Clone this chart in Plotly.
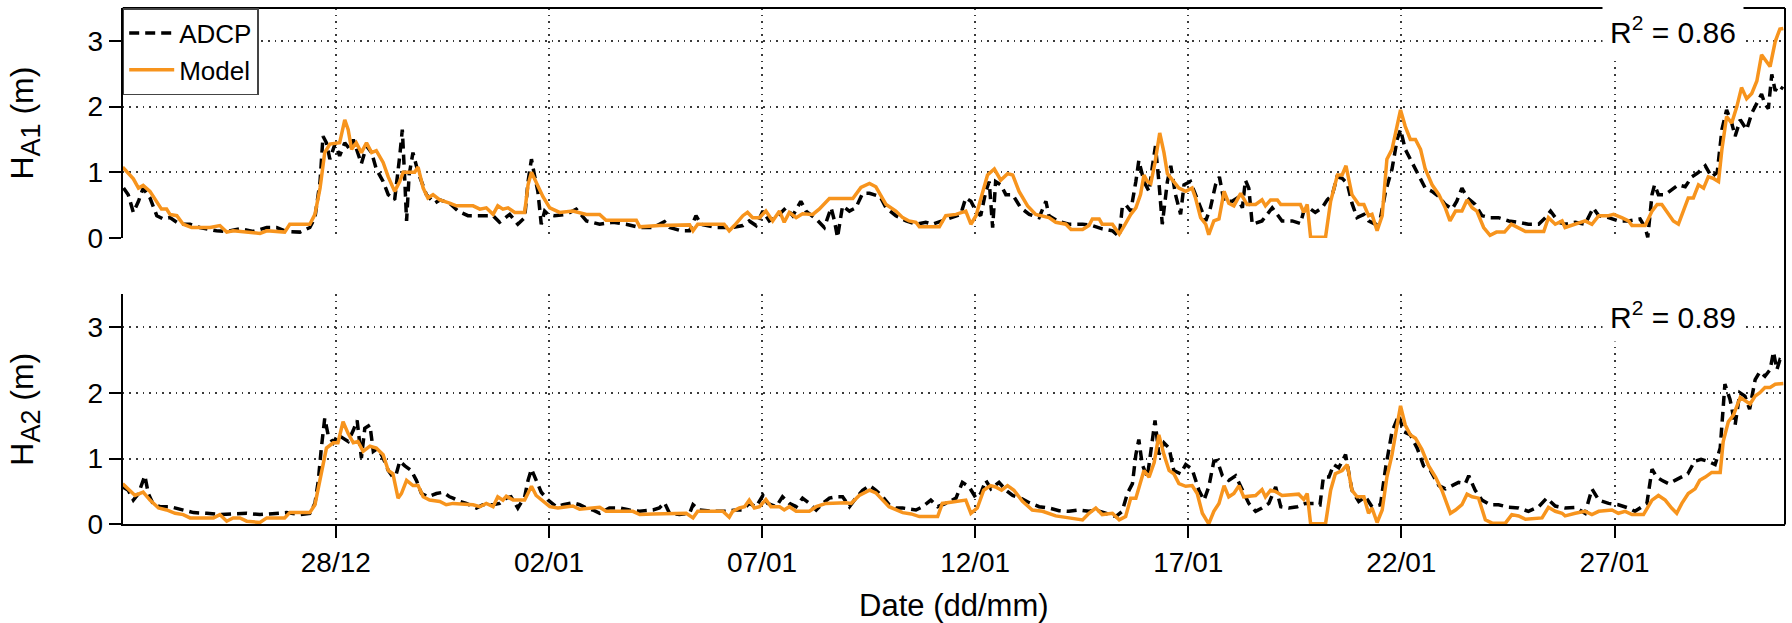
import pandas as pd
import plotly.graph_objects as go

# Time axis: day offsets from 23/12 00:00
START = pd.Timestamp("2013-12-23")
END = pd.Timestamp("2014-01-31")

tick_dates = ["2013-12-28", "2014-01-02", "2014-01-07", "2014-01-12",
              "2014-01-17", "2014-01-22", "2014-01-27"]
tick_labels = ["28/12", "02/01", "07/01", "12/01", "17/01", "22/01", "27/01"]

# ---------------- H_A1 : ADCP ----------------
a1_adcp_day = [
    0.02, 0.13, 0.25, 0.37, 0.48, 0.64, 0.80, 0.95, 1.11, 1.34, 1.58, 1.81, 2.20, 2.44, 2.75,
    3.06, 3.38, 3.61, 3.84, 4.16, 4.39, 4.51, 4.63, 4.70, 4.78, 4.86, 4.98, 5.09, 5.21, 5.33,
    5.41, 5.52, 5.60, 5.72, 5.84, 5.95, 6.11, 6.23, 6.38, 6.50, 6.56, 6.62, 6.66, 6.72, 6.81,
    6.93, 7.125, 7.32, 7.44, 7.67, 7.87, 8.10, 8.38, 8.69, 8.84, 9.00, 9.08, 9.27, 9.43, 9.51,
    9.59, 9.66, 9.74, 9.82, 9.90, 9.98, 10.13, 10.41, 10.64, 10.88, 11.19, 11.50, 11.81, 12.13,
    12.44, 12.71, 12.83, 13.11, 13.30, 13.45, 13.57, 13.92, 14.31, 14.55, 14.70, 14.86, 15.02,
    15.17, 15.37, 15.56, 15.72, 15.91, 16.03, 16.27, 16.46, 16.62, 16.70, 16.77, 16.89, 17.05,
    17.20, 17.36, 17.52, 17.77, 17.91, 18.14, 18.38, 18.61, 18.84, 19.00, 19.23, 19.47, 19.66,
    19.78, 19.90, 20.02, 20.13, 20.25, 20.33, 20.41, 20.48, 20.60, 20.72, 20.88, 21.07, 21.27,
    21.50, 21.66, 21.73, 21.93, 22.20, 22.52, 22.75, 22.98, 23.22, 23.38, 23.45, 23.53, 23.65,
    23.77, 23.84, 23.96, 24.08, 24.16, 24.23, 24.31, 24.39, 24.51, 24.59, 24.70, 24.82, 24.90,
    25.05, 25.17, 25.33, 25.41, 25.52, 25.64, 25.73, 25.84, 26.03, 26.15, 26.27, 26.34, 26.42,
    26.50, 26.73, 26.97, 27.20, 27.44, 27.63, 27.71, 27.83, 27.98, 28.14, 28.26, 28.38, 28.49,
    28.61, 28.73, 28.84, 28.96, 29.12, 29.23, 29.39, 29.51, 29.63, 29.78, 29.90, 29.98, 30.09,
    30.25, 30.41, 30.56, 30.72, 30.88, 31.03, 31.19, 31.30, 31.42, 31.55, 31.73, 31.89, 32.08,
    32.28, 32.52, 32.75, 32.98, 33.22, 33.38, 33.50, 33.69, 33.84, 34.08, 34.31, 34.50, 34.63,
    34.86, 35.09, 35.33, 35.60, 35.72, 35.78, 35.88, 35.94, 36.03, 36.19, 36.34, 36.50, 36.66,
    36.81, 36.97, 37.13, 37.28, 37.41, 37.52, 37.63, 37.75, 37.83, 37.95, 38.10, 38.22, 38.34,
    38.45, 38.53, 38.61, 38.69, 38.77, 38.84, 38.96,
]
a1_adcp_h = [
    0.76, 0.66, 0.39, 0.56, 0.76, 0.61, 0.34, 0.29, 0.31, 0.21, 0.21, 0.16, 0.11, 0.10, 0.14,
    0.10, 0.16, 0.16, 0.10, 0.09, 0.16, 0.31, 0.86, 1.55, 1.45, 1.20, 1.43, 1.25, 1.45, 1.35,
    1.50, 1.30, 1.13, 1.40, 1.30, 1.05, 0.86, 0.66, 0.58, 1.25, 1.65, 0.86, 0.26, 0.96, 1.30,
    1.00, 0.66, 0.53, 0.58, 0.53, 0.41, 0.34, 0.34, 0.34, 0.24, 0.31, 0.36, 0.21, 0.31, 0.86,
    1.20, 0.96, 0.71, 0.21, 0.41, 0.36, 0.34, 0.36, 0.44, 0.26, 0.21, 0.24, 0.21, 0.16,
    0.16, 0.25, 0.16, 0.11, 0.11, 0.34, 0.21, 0.16, 0.16, 0.19, 0.26, 0.19, 0.41,
    0.26, 0.34, 0.46, 0.34, 0.56, 0.41, 0.29, 0.16, 0.46, 0.26, 0.01, 0.49, 0.41,
    0.46, 0.68, 0.68, 0.63, 0.46, 0.34, 0.26, 0.21, 0.24, 0.21, 0.26, 0.31, 0.36,
    0.61, 0.56, 0.41, 0.34, 0.71, 0.86, 0.16, 0.86, 0.81, 0.66, 0.66, 0.46, 0.36,
    0.31, 0.56, 0.34, 0.26, 0.21, 0.21, 0.19, 0.14, 0.11, 0.02, 0.46, 0.51, 0.41,
    0.86, 1.18, 0.86, 0.71, 1.10, 1.40, 0.86, 0.21, 0.86, 1.10, 0.66, 0.36, 0.81,
    0.86, 0.66, 0.41, 0.26, 0.46, 0.81, 0.93, 0.56, 0.56, 0.61, 0.46, 0.88, 0.76,
    0.21, 0.26, 0.46, 0.26, 0.26, 0.22, 0.41, 0.46, 0.39, 0.46, 0.58, 0.66, 0.93,
    0.91, 0.83, 0.53, 0.31, 0.36, 0.26, 0.21, 0.31, 0.71, 1.05, 1.50, 1.65, 1.35,
    1.15, 0.96, 0.76, 0.71, 0.63, 0.51, 0.44, 0.56, 0.76, 0.61, 0.51, 0.34, 0.31,
    0.31, 0.26, 0.24, 0.21, 0.21, 0.31, 0.41, 0.24, 0.21, 0.24, 0.21, 0.46, 0.34,
    0.31, 0.26, 0.26, 0.29, 0.16, 0.01, 0.66, 0.81, 0.66, 0.66, 0.73, 0.81, 0.78,
    0.93, 1.00, 1.10, 0.93, 1.00, 1.65, 1.95, 1.75, 1.55, 1.80, 1.65, 1.90, 2.04,
    2.19, 2.04, 1.97, 2.49, 2.24, 2.32, 2.27,
]

# ---------------- H_A1 : Model ----------------
a1_model_day = [
    0.00, 0.25, 0.37, 0.48, 0.64, 0.80, 0.91, 1.03, 1.11, 1.27, 1.42, 1.62, 2.05, 2.28, 2.44,
    2.59, 2.91, 3.22, 3.38, 3.61, 3.80, 3.92, 4.39, 4.51, 4.63, 4.74, 4.86, 5.09, 5.21, 5.29,
    5.37, 5.48, 5.60, 5.72, 5.84, 5.95, 6.11, 6.23, 6.38, 6.50, 6.58, 6.85, 6.93, 7.05, 7.16,
    7.28, 7.44, 7.67, 7.83, 8.22, 8.38, 8.53, 8.69, 8.80, 8.92, 9.04, 9.20, 9.43, 9.51, 9.59,
    9.70, 9.86, 10.02, 10.25, 10.56, 10.88, 11.19, 11.34, 12.05, 12.13, 12.59, 13.30, 13.38,
    13.49, 14.11, 14.23, 14.35, 14.55, 14.66, 14.78, 14.94, 15.09, 15.25, 15.41, 15.52, 15.64,
    15.80, 15.95, 16.19, 16.34, 16.58, 17.13, 17.32, 17.52, 17.67, 17.91, 18.14, 18.30, 18.45,
    18.61, 18.69, 19.16, 19.31, 19.55, 19.78, 19.90, 20.02, 20.17, 20.29, 20.45, 20.60, 20.76,
    20.88, 21.03, 21.23, 21.42, 21.58, 21.73, 21.89, 22.13, 22.25, 22.52, 22.67, 22.75, 22.91,
    22.98, 23.22, 23.38, 23.50, 23.65, 23.77, 23.88, 23.96, 24.04, 24.12, 24.22, 24.33, 24.43,
    24.51, 24.66, 24.78, 24.94, 25.09, 25.17, 25.29, 25.41, 25.48, 25.60, 25.72, 25.84, 25.95,
    26.07, 26.23, 26.38, 26.58, 26.73, 26.81, 26.93, 27.09, 27.17, 27.63, 27.71, 27.79, 27.87,
    28.22, 28.34, 28.50, 28.61, 28.70, 28.84, 29.00, 29.12, 29.23, 29.31, 29.43, 29.55, 29.66,
    29.78, 29.88, 29.98, 30.09, 30.21, 30.33, 30.45, 30.56, 30.72, 30.88, 31.03, 31.14, 31.27,
    31.42, 31.54, 31.66, 31.77, 31.93, 32.08, 32.23, 32.42, 32.58, 32.75, 32.91, 33.34, 33.45,
    33.61, 33.77, 33.84, 34.08, 34.31, 34.47, 34.63, 34.86, 34.98, 35.17, 35.33, 35.41, 35.72,
    35.88, 36.00, 36.11, 36.27, 36.38, 36.50, 36.58, 36.73, 36.85, 36.97, 37.09, 37.20, 37.31,
    37.44, 37.52, 37.63, 37.75, 37.87, 37.98, 38.10, 38.22, 38.34, 38.45, 38.53, 38.65, 38.77,
    38.88, 38.96,
]
a1_model_h = [
    1.08, 0.90, 0.76, 0.80, 0.71, 0.56, 0.44, 0.44, 0.36, 0.34, 0.21, 0.16, 0.16, 0.19, 0.09,
    0.11, 0.09, 0.07, 0.11, 0.10, 0.09, 0.21, 0.21, 0.36, 0.76, 1.30, 1.43, 1.45, 1.80, 1.65,
    1.35, 1.45, 1.30, 1.45, 1.30, 1.33, 1.15, 0.93, 0.71, 0.86, 1.00, 1.00, 1.08, 0.76, 0.61,
    0.66, 0.58, 0.53, 0.49, 0.49, 0.44, 0.46, 0.36, 0.49, 0.44, 0.46, 0.39, 0.39, 0.81, 1.00,
    0.86, 0.63, 0.46, 0.39, 0.41, 0.36, 0.36, 0.27, 0.27, 0.17, 0.19, 0.20, 0.11,
    0.21, 0.21, 0.11, 0.19, 0.34, 0.39, 0.31, 0.31, 0.41, 0.26, 0.41, 0.24, 0.39,
    0.31, 0.37, 0.36, 0.44, 0.60, 0.60, 0.77, 0.83, 0.78, 0.51, 0.41, 0.31, 0.26,
    0.24, 0.17, 0.17, 0.34, 0.36, 0.41, 0.21, 0.34, 0.66, 0.96, 1.05, 0.88, 0.98,
    0.96, 0.71, 0.49, 0.36, 0.34, 0.31, 0.24, 0.21, 0.13, 0.13, 0.19, 0.29, 0.29,
    0.21, 0.21, 0.06, 0.19, 0.36, 0.46, 0.66, 0.96, 0.86, 0.83, 1.15, 1.60, 1.30,
    0.98, 0.86, 0.76, 0.71, 0.76, 0.61, 0.31, 0.21, 0.05, 0.26, 0.29, 0.71, 0.53,
    0.49, 0.68, 0.51, 0.51, 0.58, 0.49, 0.58, 0.58, 0.51, 0.51, 0.39, 0.51, 0.01,
    0.01, 0.56, 0.96, 0.96, 1.10, 0.66, 0.51, 0.51, 0.34, 0.36, 0.11, 0.34, 1.20,
    1.35, 1.65, 1.95, 1.70, 1.50, 1.50, 1.35, 1.05, 0.81, 0.66, 0.46, 0.26, 0.41,
    0.41, 0.58, 0.46, 0.41, 0.16, 0.04, 0.09, 0.09, 0.21, 0.16, 0.10, 0.10, 0.31,
    0.21, 0.26, 0.16, 0.21, 0.26, 0.21, 0.34, 0.34, 0.36, 0.31, 0.26, 0.19, 0.19,
    0.41, 0.51, 0.51, 0.36, 0.26, 0.21, 0.36, 0.61, 0.61, 0.81, 0.76, 0.93, 0.91,
    0.86, 1.35, 1.85, 1.75, 2.00, 2.29, 2.12, 2.20, 2.39, 2.79, 2.71, 2.61, 2.99,
    3.18, 3.19,
]

# ---------------- H_A2 : ADCP ----------------
a2_adcp_day = [
    0.00, 0.13, 0.25, 0.37, 0.52, 0.60, 0.72, 0.88, 1.11, 1.38, 1.66, 1.97, 2.28, 2.59, 2.91,
    3.22, 3.53, 3.84, 4.16, 4.39, 4.51, 4.59, 4.66, 4.74, 4.82, 4.94, 5.05, 5.17, 5.29, 5.41,
    5.50, 5.60, 5.68, 5.80, 5.88, 5.99, 6.11, 6.23, 6.34, 6.42, 6.50, 6.62, 6.77, 6.89, 7.01,
    7.16, 7.36, 7.52, 7.67, 7.75, 7.91, 8.06, 8.30, 8.45, 8.69, 8.84, 9.00, 9.11, 9.27, 9.43,
    9.51, 9.59, 9.70, 9.82, 9.98, 10.17, 10.33, 10.56, 10.72, 10.88, 11.03, 11.19, 11.42, 11.66,
    11.89, 12.13, 12.44, 12.59, 12.71, 12.83, 13.06, 13.30, 13.38, 13.53, 13.84, 14.16, 14.39,
    14.55, 14.70, 14.86, 15.02, 15.13, 15.33, 15.48, 15.64, 15.80, 15.95, 16.11, 16.27, 16.42,
    16.58, 16.73, 16.89, 17.05, 17.20, 17.36, 17.52, 17.67, 17.83, 17.98, 18.14, 18.30, 18.61,
    18.77, 18.96, 19.12, 19.31, 19.55, 19.70, 19.86, 20.02, 20.13, 20.25, 20.37, 20.56, 20.72,
    20.88, 21.07, 21.27, 21.50, 21.73, 21.97, 22.20, 22.44, 22.67, 22.83, 23.06, 23.30, 23.45,
    23.57, 23.69, 23.77, 23.84, 23.92, 24.04, 24.12, 24.22, 24.31, 24.43, 24.55, 24.66, 24.82,
    24.94, 25.09, 25.25, 25.37, 25.48, 25.60, 25.68, 25.80, 25.95, 26.11, 26.27, 26.42, 26.58,
    26.73, 26.89, 27.05, 27.17, 27.36, 27.56, 27.75, 27.98, 28.09, 28.17, 28.30, 28.41, 28.53,
    28.69, 28.84, 29.00, 29.16, 29.31, 29.51, 29.63, 29.78, 29.94, 30.05, 30.21, 30.37, 30.52,
    30.68, 30.88, 31.03, 31.19, 31.34, 31.50, 31.58, 31.73, 31.89, 32.08, 32.28, 32.52, 32.75,
    32.98, 33.22, 33.41, 33.61, 33.84, 34.08, 34.31, 34.47, 34.63, 34.86, 35.09, 35.33, 35.48,
    35.64, 35.76, 35.88, 35.99, 36.11, 36.27, 36.42, 36.56, 36.72, 36.88, 37.03, 37.19, 37.36,
    37.48, 37.59, 37.71, 37.83, 37.94, 38.06, 38.17, 38.30, 38.41, 38.53, 38.65, 38.73, 38.81,
    38.88, 38.96,
]
a2_adcp_h = [
    0.57, 0.52, 0.37, 0.47, 0.74, 0.47, 0.30, 0.27, 0.27, 0.22, 0.18, 0.17, 0.15, 0.16, 0.17,
    0.15, 0.17, 0.18, 0.15, 0.17, 0.32, 0.67, 1.16, 1.61, 1.36, 1.24, 1.36, 1.31, 1.26, 1.43,
    1.58, 1.01, 1.46, 1.51, 1.11, 1.16, 1.01, 0.82, 0.72, 0.77, 0.96, 0.89, 0.82, 0.67, 0.47,
    0.42, 0.47, 0.49, 0.42, 0.40, 0.35, 0.32, 0.25, 0.30, 0.30, 0.32, 0.40, 0.42, 0.25, 0.42,
    0.67, 0.84, 0.67, 0.49, 0.37, 0.27, 0.30, 0.33, 0.30, 0.25, 0.22, 0.17, 0.25, 0.25,
    0.22, 0.20, 0.22, 0.25, 0.33, 0.17, 0.15, 0.17, 0.30, 0.22, 0.20, 0.20, 0.22,
    0.22, 0.32, 0.27, 0.44, 0.32, 0.27, 0.42, 0.32, 0.27, 0.40, 0.32, 0.22, 0.32,
    0.40, 0.42, 0.42, 0.27, 0.40, 0.52, 0.59, 0.52, 0.42, 0.30, 0.25, 0.25, 0.22,
    0.27, 0.37, 0.27, 0.32, 0.40, 0.64, 0.57, 0.40, 0.47, 0.67, 0.54, 0.64, 0.52,
    0.44, 0.40, 0.33, 0.27, 0.25, 0.21, 0.20, 0.22, 0.20, 0.22, 0.17, 0.12, 0.20,
    0.47, 0.62, 1.06, 1.29, 0.91, 0.72, 1.11, 1.58, 1.06, 1.24, 1.16, 0.82, 0.77,
    0.91, 0.84, 0.52, 0.37, 0.57, 0.96, 0.97, 0.74, 0.67, 0.74, 0.52, 0.32, 0.20,
    0.25, 0.32, 0.57, 0.27, 0.25, 0.27, 0.32, 0.32, 0.30, 0.72, 0.72, 0.91, 0.86,
    1.06, 0.52, 0.35, 0.42, 0.27, 0.30, 0.86, 1.41, 1.66, 1.41, 1.36, 1.16, 0.89,
    0.82, 0.59, 0.54, 0.59, 0.64, 0.62, 0.74, 0.52, 0.37, 0.30, 0.30, 0.26, 0.25,
    0.20, 0.27, 0.40, 0.28, 0.25, 0.26, 0.17, 0.54, 0.37, 0.32, 0.30, 0.25, 0.20,
    0.27, 0.32, 0.84, 0.72, 0.67, 0.62, 0.67, 0.72, 0.77, 0.96, 0.99, 0.96, 0.91,
    1.16, 2.13, 1.90, 1.51, 2.00, 1.95, 1.75, 2.20, 2.32, 2.25, 2.35, 2.62, 2.35,
    2.50, 2.47,
]

# ---------------- H_A2 : Model ----------------
a2_model_day = [
    0.00, 0.13, 0.29, 0.48, 0.64, 0.84, 1.03, 1.23, 1.42, 1.58, 2.13, 2.28, 2.44, 2.59, 2.75,
    2.91, 3.22, 3.38, 3.80, 3.92, 4.39, 4.51, 4.66, 4.78, 4.94, 5.05, 5.17, 5.29, 5.41, 5.52,
    5.64, 5.80, 5.95, 6.11, 6.23, 6.34, 6.46, 6.54, 6.66, 6.81, 6.93, 7.05, 7.20, 7.44, 7.59,
    7.75, 8.22, 8.38, 8.53, 8.69, 8.80, 8.92, 9.00, 9.16, 9.43, 9.59, 9.70, 9.86, 10.02, 10.21,
    10.41, 10.56, 10.72, 10.95, 11.19, 11.34, 11.97, 12.13, 12.44, 13.22, 13.38, 13.49, 14.08,
    14.23, 14.31, 14.47, 14.59, 14.70, 14.82, 14.94, 15.09, 15.21, 15.41, 15.52, 15.64, 15.80,
    16.11, 16.27, 16.50, 16.97, 17.09, 17.28, 17.52, 17.67, 17.83, 17.98, 18.30, 18.50, 18.69,
    19.12, 19.23, 19.55, 19.78, 19.90, 20.05, 20.20, 20.36, 20.48, 20.62, 20.76, 20.91, 21.11,
    21.34, 21.58, 21.89, 22.20, 22.52, 22.67, 22.83, 22.98, 23.22, 23.38, 23.53, 23.65, 23.77,
    23.96, 24.08, 24.20, 24.31, 24.43, 24.55, 24.66, 24.78, 24.94, 25.09, 25.21, 25.33, 25.48,
    25.60, 25.72, 25.84, 25.95, 26.07, 26.19, 26.30, 26.58, 26.73, 26.81, 26.93, 27.05, 27.20,
    27.59, 27.71, 27.79, 27.87, 28.22, 28.34, 28.45, 28.61, 28.73, 28.84, 28.96, 29.12, 29.23,
    29.31, 29.43, 29.55, 29.66, 29.78, 29.86, 29.98, 30.09, 30.21, 30.33, 30.48, 30.64, 30.80,
    30.95, 31.15, 31.27, 31.42, 31.54, 31.66, 31.81, 31.97, 32.13, 32.44, 32.59, 32.75, 32.91,
    33.30, 33.45, 33.61, 33.77, 33.84, 34.08, 34.31, 34.47, 34.63, 34.94, 35.09, 35.25, 35.41,
    35.68, 35.88, 36.03, 36.19, 36.34, 36.46, 36.58, 36.73, 36.89, 37.00, 37.13, 37.28, 37.48,
    37.55, 37.67, 37.79, 37.95, 38.06, 38.18, 38.30, 38.41, 38.53, 38.65, 38.77, 38.96,
]
a2_model_h = [
    0.62, 0.54, 0.44, 0.49, 0.37, 0.25, 0.22, 0.17, 0.15, 0.10, 0.10, 0.15, 0.05, 0.10, 0.10,
    0.05, 0.03, 0.10, 0.10, 0.18, 0.18, 0.30, 0.77, 1.16, 1.24, 1.24, 1.56, 1.38, 1.24, 1.26,
    1.11, 1.19, 1.16, 1.06, 0.82, 0.77, 0.40, 0.47, 0.67, 0.59, 0.59, 0.42, 0.37, 0.35, 0.30,
    0.32, 0.30, 0.27, 0.32, 0.27, 0.42, 0.37, 0.43, 0.37, 0.37, 0.58, 0.44, 0.35, 0.27, 0.25,
    0.26, 0.28, 0.23, 0.25, 0.26, 0.20, 0.20, 0.15, 0.16, 0.17, 0.10, 0.20, 0.20,
    0.11, 0.20, 0.25, 0.27, 0.37, 0.25, 0.27, 0.38, 0.27, 0.27, 0.22, 0.27, 0.20,
    0.20, 0.27, 0.32, 0.33, 0.32, 0.44, 0.52, 0.48, 0.37, 0.27, 0.18, 0.16, 0.12,
    0.12, 0.32, 0.35, 0.37, 0.17, 0.25, 0.52, 0.59, 0.57, 0.52, 0.59, 0.52, 0.35,
    0.22, 0.20, 0.13, 0.10, 0.07, 0.17, 0.25, 0.15, 0.17, 0.07, 0.12, 0.40, 0.40,
    0.82, 0.72, 0.94, 1.36, 1.06, 0.82, 0.77, 0.62, 0.58, 0.59, 0.47, 0.17, 0.01,
    0.20, 0.32, 0.59, 0.42, 0.47, 0.59, 0.42, 0.44, 0.53, 0.42, 0.52, 0.50, 0.44,
    0.46, 0.38, 0.47, 0.01, 0.01, 0.52, 0.77, 0.82, 0.91, 0.52, 0.42, 0.42, 0.17,
    0.25, 0.03, 0.22, 0.72, 1.06, 1.36, 1.80, 1.51, 1.36, 1.31, 1.14, 0.89, 0.72,
    0.52, 0.17, 0.22, 0.30, 0.46, 0.42, 0.40, 0.07, 0.02, 0.02, 0.15, 0.13, 0.08,
    0.10, 0.26, 0.20, 0.17, 0.13, 0.17, 0.20, 0.15, 0.20, 0.22, 0.17, 0.20, 0.15,
    0.15, 0.37, 0.44, 0.37, 0.25, 0.17, 0.32, 0.47, 0.54, 0.67, 0.72, 0.79, 0.79,
    1.26, 1.56, 1.66, 1.93, 1.88, 1.83, 1.95, 2.00, 2.08, 2.08, 2.13, 2.14,
]

r2_values = ["0.86", "0.89"]


def to_time(days):
    return START + pd.to_timedelta(pd.Series(days, dtype=float), unit="D")


FONT = "Liberation Sans, Arial, Helvetica, sans-serif"
ORANGE = "#F7941D"
GRID = dict(showgrid=True, gridcolor="#3a3a3a", gridwidth=1.6, griddash="1.6px,5px")

# Panel geometry (paper coordinates)
X0, X1 = 122.7 / 1792, 1785.0 / 1792
TOP_DOM = [1 - 244.3 / 623, 1 - 8.3 / 623]
BOT_DOM = [1 - 538.3 / 623, 1 - 301.7 / 623]

fig = go.Figure()

panels = [
    (a1_adcp_day, a1_adcp_h, a1_model_day, a1_model_h, "x", "y", True),
    (a2_adcp_day, a2_adcp_h, a2_model_day, a2_model_h, "x2", "y2", False),
]
for adcp_d, adcp_h, mod_d, mod_h, xa, ya, show in panels:
    fig.add_trace(go.Scatter(
        x=to_time(adcp_d), y=adcp_h, mode="lines", name="ADCP",
        line=dict(color="black", width=3.5, dash="10px,6px"),
        xaxis=xa, yaxis=ya, showlegend=show, legendrank=1,
    ))
    fig.add_trace(go.Scatter(
        x=to_time(mod_d), y=mod_h, mode="lines", name="Model",
        line=dict(color=ORANGE, width=3.5),
        xaxis=xa, yaxis=ya, showlegend=show, legendrank=2,
    ))

xcommon = dict(
    domain=[X0, X1], range=[START, END], tickvals=tick_dates, ticktext=tick_labels,
    zeroline=False, **GRID,
)
ycommon = dict(
    range=[0, 3.5], tickvals=[0, 1, 2, 3], zeroline=False,
    showline=True, linecolor="black", linewidth=2,
    ticks="outside", ticklen=12, tickwidth=2, tickcolor="black",
    tickfont=dict(size=28), title_standoff=44, title_font=dict(size=32),
    **GRID,
)

fig.update_layout(
    width=1792, height=623, autosize=False,
    margin=dict(l=0, r=0, t=0, b=0),
    paper_bgcolor="white", plot_bgcolor="white",
    font=dict(family=FONT, size=28, color="black"),
    xaxis=dict(**xcommon, anchor="y", showticklabels=False, showline=False, ticks=""),
    yaxis=dict(**ycommon, domain=TOP_DOM, anchor="x",
               title_text="H<sub><span style='font-size:27px'>A1</span></sub> (m)"),
    xaxis2=dict(**xcommon, anchor="y2", showline=True, linecolor="black", linewidth=2,
                ticks="outside", ticklen=12, tickwidth=2, tickcolor="black",
                tickfont=dict(size=28), title_text="Date (dd/mm)",
                title_font=dict(size=31), title_standoff=20),
    yaxis2=dict(**ycommon, domain=BOT_DOM, anchor="x2",
                title_text="H<sub><span style='font-size:27px'>A2</span></sub> (m)"),
    legend=dict(
        x=X0, y=TOP_DOM[1], xanchor="left", yanchor="top",
        bgcolor="white", bordercolor="#444", borderwidth=1.5,
        font=dict(size=26), tracegroupgap=0, itemwidth=45,
    ),
    showlegend=True,
)

# Frame: top edge of the upper panel and a shared right edge
fig.add_shape(type="line", xref="paper", yref="paper", x0=X0, x1=X1,
              y0=TOP_DOM[1], y1=TOP_DOM[1], line=dict(color="black", width=2))
fig.add_shape(type="line", xref="paper", yref="paper", x0=X1, x1=X1,
              y0=BOT_DOM[0], y1=TOP_DOM[1], line=dict(color="black", width=2))

# Goodness-of-fit labels
for r2, yc in zip(r2_values, [1 - 31 / 623, 1 - 323 / 623]):
    fig.add_annotation(
        x=1673 / 1792, y=yc, xref="paper", yref="paper",
        text=f"R<sup>2</sup> = {r2}", showarrow=False,
        xanchor="center", yanchor="middle",
        font=dict(size=30, color="black"),
        bgcolor="white", borderpad=7,
    )

fig.write_html("out.html")
